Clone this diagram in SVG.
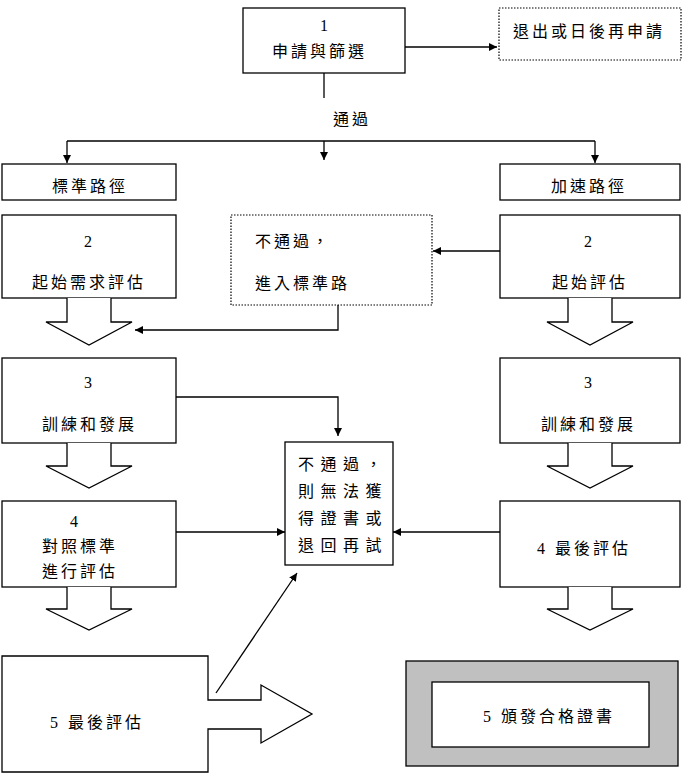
<svg xmlns="http://www.w3.org/2000/svg" width="682" height="777" viewBox="0 0 682 777">
<style>
.b{fill:#fff;stroke:#000;stroke-width:1.3}
.d{fill:#fff;stroke:#000;stroke-width:1.2;stroke-dasharray:1.5 1.5}
.l{fill:none;stroke:#000;stroke-width:1.3}
.t{font-family:"Liberation Serif","Noto Sans CJK TC",serif;font-size:16px;letter-spacing:3px;fill:#000}
.c{letter-spacing:6.5px}
</style>
<defs>
<marker id="a" viewBox="0 0 10 10" refX="10" refY="5" markerWidth="8" markerHeight="8" markerUnits="userSpaceOnUse" orient="auto"><path d="M0,0L10,5L0,10z" fill="#000"/></marker>
</defs>
<rect width="682" height="777" fill="#fff"/>
<g id="connectors">
<path class="l" d="M405,47H497" marker-end="url(#a)"/>
<path class="l" d="M324,73V98"/>
<path class="l" d="M67,141H595"/>
<path class="l" d="M67,141V163" marker-end="url(#a)"/>
<path class="l" d="M324,141V160" marker-end="url(#a)"/>
<path class="l" d="M595,141V163" marker-end="url(#a)"/>
<path class="l" d="M500,251H433" marker-end="url(#a)"/>
<path class="l" d="M338,305V330H135" marker-end="url(#a)"/>
<path class="l" d="M176,397H338V436" marker-end="url(#a)"/>
<path class="l" d="M176,532H285" marker-end="url(#a)"/>
<path class="l" d="M500,532H393" marker-end="url(#a)"/>
<path class="l" d="M216,693L297,573" marker-end="url(#a)"/>
</g>
<g id="n1"><rect class="b" x="243" y="8" width="162" height="65"/><text class="t" x="320" y="31">1</text><text class="t" x="272" y="57">申請與篩選</text></g>
<g id="exit"><rect class="d" x="499" y="8" width="182" height="52"/><text class="t" x="513" y="37">退出或日後再申請</text></g>
<g id="pass"><text class="t" x="333" y="125">通過</text></g>
<g id="std"><rect class="b" x="2" y="164" width="174" height="36"/><text class="t" x="52" y="192">標準路徑</text></g>
<g id="fast"><rect class="b" x="500" y="164" width="180" height="36"/><text class="t" x="551" y="192">加速路徑</text></g>
<g id="l2"><rect class="b" x="2" y="215" width="174" height="83"/><polyline class="b" points="67,298 67,322 46,322 89,345 132,322 111,322 111,298"/><text class="t" x="84" y="247">2</text><text class="t" x="32" y="288">起始需求評估</text></g>
<g id="fail1"><rect class="d" x="231" y="215" width="201" height="90"/><text class="t" x="255" y="247">不通過，</text><text class="t" x="255" y="289">進入標準路</text></g>
<g id="r2"><rect class="b" x="500" y="215" width="180" height="83"/><polyline class="b" points="568,298 568,322 547,322 590,345 633,322 612,322 612,298"/><text class="t" x="584" y="247">2</text><text class="t" x="552" y="288">起始評估</text></g>
<g id="l3"><rect class="b" x="2" y="358" width="174" height="85"/><polyline class="b" points="67,443 67,466 46,466 89,488 132,466 111,466 111,443"/><text class="t" x="84" y="388">3</text><text class="t" x="42" y="430">訓練和發展</text></g>
<g id="r3"><rect class="b" x="500" y="358" width="180" height="85"/><polyline class="b" points="568,443 568,466 547,466 590,488 633,466 612,466 612,443"/><text class="t" x="584" y="388">3</text><text class="t" x="541" y="430">訓練和發展</text></g>
<g id="fail2"><rect class="b" x="285" y="442" width="108" height="123"/><text class="t c" x="298" y="470">不通過，</text><text class="t c" x="298" y="497">則無法獲</text><text class="t c" x="298" y="524">得證書或</text><text class="t c" x="298" y="551">退回再試</text></g>
<g id="l4"><rect class="b" x="2" y="501" width="174" height="86"/><polyline class="b" points="67,587 67,609 46,609 89,630 132,609 111,609 111,587"/><text class="t" x="70" y="527">4</text><text class="t" x="42" y="552">對照標準</text><text class="t" x="42" y="577">進行評估</text></g>
<g id="r4"><rect class="b" x="500" y="501" width="180" height="86"/><polyline class="b" points="568,587 568,609 547,609 590,630 633,609 612,609 612,587"/><text class="t" x="537" y="554">4 最後評估</text></g>
<g id="l5"><polygon class="b" points="2,656 208,656 208,700 261,700 261,685 312,714 261,743 261,729 208,729 208,772 2,772"/><text class="t" x="50" y="728">5 最後評估</text></g>
<g id="r5"><rect x="406" y="661" width="272" height="105" fill="#c0c0c0" stroke="#000" stroke-width="1.3"/><rect class="b" x="432" y="682" width="217" height="65"/><text class="t" x="483" y="722">5 頒發合格證書</text></g>
</svg>
